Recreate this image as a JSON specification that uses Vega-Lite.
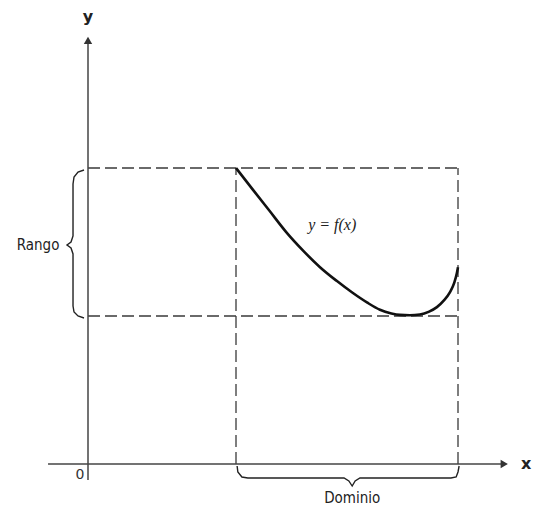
{
  "$schema": "https://vega.github.io/schema/vega-lite/v6.json",
  "width": 535,
  "height": 510,
  "autosize": {"type": "none"},
  "padding": 0,
  "background": "white",
  "config": {"view": {"stroke": null}},
  "datasets": {
    "axes": [
      {"x": 0, "y": -0.43, "x2": 0, "y2": 11.45},
      {"x": -1.08, "y": 0, "x2": 11.25, "y2": 0}
    ],
    "arrows": [
      {"x": 0, "y": 11.45, "shape": "triangle-up"},
      {"x": 11.25, "y": 0, "shape": "triangle-right"}
    ],
    "dashes": [
      {"x": 0, "y": 8, "x2": 10, "y2": 8},
      {"x": 0, "y": 4, "x2": 10, "y2": 4},
      {"x": 4, "y": 0, "x2": 4, "y2": 8},
      {"x": 10, "y": 0, "x2": 10, "y2": 8}
    ],
    "curve": [
      {"i": 0, "x": 4.0, "y": 8.0},
      {"i": 1, "x": 4.46, "y": 7.41},
      {"i": 2, "x": 4.9, "y": 6.85},
      {"i": 3, "x": 5.38, "y": 6.24},
      {"i": 4, "x": 5.82, "y": 5.76},
      {"i": 5, "x": 6.27, "y": 5.32},
      {"i": 6, "x": 6.72, "y": 4.95},
      {"i": 7, "x": 7.16, "y": 4.62},
      {"i": 8, "x": 7.55, "y": 4.36},
      {"i": 9, "x": 7.89, "y": 4.17},
      {"i": 10, "x": 8.2, "y": 4.07},
      {"i": 11, "x": 8.43, "y": 4.03},
      {"i": 12, "x": 8.7, "y": 4.02},
      {"i": 13, "x": 8.97, "y": 4.04},
      {"i": 14, "x": 9.22, "y": 4.12},
      {"i": 15, "x": 9.43, "y": 4.24},
      {"i": 16, "x": 9.62, "y": 4.42},
      {"i": 17, "x": 9.78, "y": 4.64},
      {"i": 18, "x": 9.9, "y": 4.9},
      {"i": 19, "x": 9.97, "y": 5.16},
      {"i": 20, "x": 10.0, "y": 5.32}
    ],
    "rango": [
      {"i": 0, "x": -0.108, "y": 7.946},
      {"i": 1, "x": -0.27, "y": 7.89},
      {"i": 2, "x": -0.378, "y": 7.757},
      {"i": 3, "x": -0.405, "y": 7.568},
      {"i": 4, "x": -0.405, "y": 6.162},
      {"i": 5, "x": -0.459, "y": 6.0},
      {"i": 6, "x": -0.568, "y": 5.919},
      {"i": 7, "x": -0.459, "y": 5.838},
      {"i": 8, "x": -0.405, "y": 5.676},
      {"i": 9, "x": -0.405, "y": 4.27},
      {"i": 10, "x": -0.378, "y": 4.108},
      {"i": 11, "x": -0.27, "y": 4.0},
      {"i": 12, "x": -0.108, "y": 3.946}
    ],
    "dominio": [
      {"i": 0, "x": 4.03, "y": -0.054},
      {"i": 1, "x": 4.05, "y": -0.216},
      {"i": 2, "x": 4.16, "y": -0.351},
      {"i": 3, "x": 4.32, "y": -0.378},
      {"i": 4, "x": 6.92, "y": -0.378},
      {"i": 5, "x": 7.05, "y": -0.459},
      {"i": 6, "x": 7.14, "y": -0.595},
      {"i": 7, "x": 7.22, "y": -0.459},
      {"i": 8, "x": 7.35, "y": -0.378},
      {"i": 9, "x": 9.81, "y": -0.378},
      {"i": 10, "x": 9.95, "y": -0.351},
      {"i": 11, "x": 10.0, "y": -0.216},
      {"i": 12, "x": 10.03, "y": -0.054}
    ],
    "labels": [
      {"x": -1.35, "y": 5.92, "label": "Rango"},
      {"x": 7.14, "y": -0.92, "label": "Dominio"}
    ],
    "axislabels": [
      {"x": 0, "y": 12.08, "label": "y"},
      {"x": 11.84, "y": 0, "label": "x"}
    ],
    "zero": [
      {"x": -0.216, "y": -0.3, "label": "0"}
    ],
    "func": [
      {"x": 6.6, "y": 6.46, "label": "y = f(x)"}
    ]
  },
  "encoding": {
    "x": {"field": "x", "type": "quantitative", "axis": null,
          "scale": {"domain": [-2.3784, 12.0811], "nice": false, "zero": false}},
    "y": {"field": "y", "type": "quantitative", "axis": null,
          "scale": {"domain": [-1.2432, 12.5405], "nice": false, "zero": false}}
  },
  "layer": [
    {
      "data": {"name": "dashes"},
      "mark": {"type": "rule", "color": "#3a3a3a", "strokeWidth": 1.3, "strokeDash": [12, 5]},
      "encoding": {"x2": {"field": "x2"}, "y2": {"field": "y2"}}
    },
    {
      "data": {"name": "axes"},
      "mark": {"type": "rule", "color": "#444444", "strokeWidth": 1.5},
      "encoding": {"x2": {"field": "x2"}, "y2": {"field": "y2"}}
    },
    {
      "data": {"name": "arrows"},
      "mark": {"type": "point", "filled": true, "color": "#333333", "size": 70, "opacity": 1},
      "encoding": {"shape": {"field": "shape", "type": "nominal", "scale": null}}
    },
    {
      "data": {"name": "curve"},
      "mark": {"type": "line", "color": "#111111", "strokeWidth": 2.6, "interpolate": "monotone"},
      "encoding": {"order": {"field": "i", "type": "quantitative"}}
    },
    {
      "data": {"name": "rango"},
      "mark": {"type": "line", "color": "#222222", "strokeWidth": 1.4},
      "encoding": {"order": {"field": "i", "type": "quantitative"}}
    },
    {
      "data": {"name": "dominio"},
      "mark": {"type": "line", "color": "#222222", "strokeWidth": 1.4},
      "encoding": {"order": {"field": "i", "type": "quantitative"}}
    },
    {
      "data": {"name": "labels"},
      "mark": {"type": "text", "font": "DejaVu Sans Condensed", "fontSize": 15, "fontWeight": "normal", "color": "#222222", "align": "center", "baseline": "middle"},
      "encoding": {"text": {"field": "label"}}
    },
    {
      "data": {"name": "axislabels"},
      "mark": {"type": "text", "font": "DejaVu Sans", "fontWeight": "bold", "fontSize": 16, "color": "#222222", "align": "center", "baseline": "middle"},
      "encoding": {"text": {"field": "label"}}
    },
    {
      "data": {"name": "zero"},
      "mark": {"type": "text", "font": "DejaVu Sans", "fontSize": 14, "color": "#333333", "align": "center", "baseline": "middle"},
      "encoding": {"text": {"field": "label"}}
    },
    {
      "data": {"name": "func"},
      "mark": {"type": "text", "font": "Liberation Serif", "fontStyle": "italic", "fontSize": 16, "color": "#222222", "align": "center", "baseline": "middle"},
      "encoding": {"text": {"field": "label"}}
    }
  ]
}
